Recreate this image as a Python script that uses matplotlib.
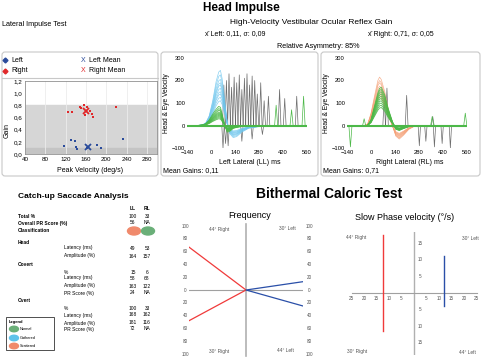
import numpy as np
import matplotlib.pyplot as plt
from matplotlib.patches import FancyBboxPatch, Ellipse, Rectangle

plt.rcParams['font.family'] = ['Liberation Sans', 'DejaVu Sans']

W, H = 482, 359

# ---- gain scatter (peak velocity deg/s, gain)
left_vel = [116, 130, 138, 143, 140, 163, 181, 189, 234]
left_gain = [0.13, 0.23, 0.21, 0.08, 0.12, 0.10, 0.14, 0.10, 0.25]
right_vel = [125, 132, 148, 156, 151, 163, 169, 171, 173, 159, 219]
right_gain = [0.69, 0.69, 0.78, 0.81, 0.75, 0.78, 0.71, 0.65, 0.61, 0.64, 0.78]
left_mean = (165, 0.11)
right_mean = (160, 0.71)

# ---- head impulse traces (ms, deg/s)
ll_t = [-140, -80, -50, -30, -10, 10, 30, 45, 55, 65, 80, 95, 110, 130, 150, 180, 220, 280, 350, 560]
ll_head = [0, 0, 0.01, 0.05, 0.18, 0.45, 0.8, 0.97, 1.0, 0.85, 0.45, 0.05, -0.15, -0.22, -0.2, -0.12, -0.05, -0.02, 0, 0]
ll_eye = [0, 0, 0.02, 0.1, 0.3, 0.6, 0.85, 1.0, 0.95, 0.6, 0.0, -0.35, -0.3, -0.15, -0.1, -0.05, 0, 0, 0, 0]
ll_head_peaks = [245, 225, 205, 190, 180, 165, 150, 140, 125, 110]
ll_eye_peaks = [85, 75, 68, 60, 55, 50, 45, 40, 35, 30]
ll_sacc_t = [75, 90, 105, 120, 135, 150, 165, 180, 195, 210, 225, 240, 255, 270, 290, 310, 335, 400, 430, 500]
ll_sacc_h = [180, 200, 230, 170, 215, 190, 225, 160, 210, 230, 180, 220, 200, 140, 190, 110, 130, 160, 120, 130]
ll_dip_t = [70, 85, 100, 180, 240, 300]
ll_dip_h = [-100, -80, -90, -70, -60, -40]
ll_green_t = [380, 470, 540]
ll_green_h = [90, 70, 130]

rl_t = [-140, -40, -20, 0, 20, 40, 50, 60, 80, 100, 125, 145, 165, 190, 220, 250, 300, 560]
rl_head = [0, 0, 0.02, 0.25, 0.6, 0.93, 1.0, 0.95, 0.7, 0.35, 0, -0.22, -0.28, -0.2, -0.08, -0.02, 0, 0]
rl_eye = [0, 0, 0.0, 0.15, 0.5, 0.85, 0.97, 1.0, 0.8, 0.45, 0.1, -0.1, -0.13, -0.08, -0.03, 0, 0, 0]
rl_head_peaks = [215, 200, 190, 175, 165, 155, 145, 135, 125]
rl_eye_peaks = [170, 160, 150, 140, 130, 120, 110, 100, 90, 80]
rl_sacc_t = [77, 93, 208, 360]
rl_sacc_h = [120, 166, 134, 40]
rl_dip_t = [282, 320, 370, 415, 463]
rl_dip_h = [-90, -70, -95, -80, -100]
rl_green_t = [-120, -40, 357, 550]
rl_green_h = [-95, 30, 40, 55]

# ---- catch-up saccade table
row_labels = ['Total %', 'Overall PR Score (%)', 'Classification', 'Head', 'Latency (ms)', 'Amplitude (%)',
              'Covert', '%', 'Latency (ms)', 'Amplitude (%)', 'PR Score (%)',
              'Overt', '%', 'Latency (ms)', 'Amplitude (%)', 'PR Score (%)']
row_bold = [True, True, True, True, False, False, True, False, False, False, False, True, False, False, False, False]
ll_vals = ['100', '56', '', '', '49', '164', '', '15', '58', '163', '24', '', '100', '168', '181', '72']
rl_vals = ['33', 'NA', '', '', '53', '157', '', '6', '68', '122', 'NA', '', '33', '162', '116', 'NA']
class_colors = ['#f08a6c', '#6aaf78']
legend_names = ['Normal', 'Gathered', 'Scattered']
legend_colors = ['#6aaf78', '#5ec3ea', '#f08a6c']

# ---- caloric
freq_quads = ['44° Right', '30° Left', '30° Right', '44° Left']
freq_red = [67, -48]
freq_blue = [13, -25]
spv_x = [-12.4, 12.0]
spv_top = [17.4, 11.1]
spv_bot = [-11.4, -3.9]


def px_axes(fig, x0, y0, x1, y1):
    ax = fig.add_axes([x0 / W, 1 - y1 / H, (x1 - x0) / W, (y1 - y0) / H])
    ax.patch.set_alpha(0)
    return ax


fig = plt.figure(figsize=(W / 100, H / 100), dpi=100)
ov = fig.add_axes([0, 0, 1, 1])
ov.set_xlim(0, W)
ov.set_ylim(H, 0)
ov.axis('off')

# titles
ov.text(241, 8, 'Head Impulse', ha='center', va='center', fontsize=8.5, fontweight='bold')
ov.text(2, 24, 'Lateral Impulse Test', va='center', fontsize=5.2)
ov.text(311, 23, 'High-Velocity Vestibular Ocular Reflex Gain', ha='center', va='center', fontsize=6)
ov.text(205, 34, 'x\u0304 Left: 0,11, \u03c3: 0,09', va='center', fontsize=5)
ov.text(368, 34, 'x\u0304 Right: 0,71, \u03c3: 0,05', va='center', fontsize=5)
ov.text(318, 46, 'Relative Asymmetry: 85%', ha='center', va='center', fontsize=5.2)

# panel boxes
for x0, x1 in [(2, 158), (161, 318), (321, 480)]:
    ov.add_patch(FancyBboxPatch((x0, 52), x1 - x0, 124, boxstyle='round,pad=0,rounding_size=3',
                                fc='none', ec='#c8c8c8', lw=0.8))
ov.plot([2, 158], [78, 78], color='#c8c8c8', lw=0.8)

# gain legend
ov.plot(5, 60, 'D', color='#2a4b9b', ms=2.5)
ov.text(11, 60, 'Left', va='center', fontsize=5)
ov.plot(5, 71, 'D', color='#e0282a', ms=2.5)
ov.text(11, 71, 'Right', va='center', fontsize=5)
ov.text(83, 60, 'X', color='#2a4b9b', ha='center', va='center', fontsize=5)
ov.text(89, 60, 'Left Mean', va='center', fontsize=5)
ov.text(83, 71, 'X', color='#e0282a', ha='center', va='center', fontsize=5)
ov.text(89, 71, 'Right Mean', va='center', fontsize=5)

# gain scatter
ga = px_axes(fig, 25, 81, 157, 154)
ga.set_xlim(40, 300)
ga.set_ylim(0, 1.2)
ga.axhspan(0, 0.8, color='#d6d6d6', zorder=0)
ga.axhspan(0, 0.1, color='#c4c4c4', zorder=0)
ga.set_xticks(np.arange(40, 281, 40))
ga.set_yticks(np.arange(0, 1.21, 0.2))
ga.set_yticklabels([f'{v:.1f}'.replace('.', ',') for v in np.arange(0, 1.21, 0.2)])
ga.grid(axis='x', color='#ececec', lw=0.6, zorder=1)
ga.set_axisbelow(True)
ga.tick_params(length=0, labelsize=4.5, pad=2)
for s in ga.spines.values():
    s.set_color('#909090')
    s.set_linewidth(0.6)
ga.scatter(left_vel, left_gain, s=0.8, marker='s', color='#2a4b9b', zorder=3, linewidths=0)
ga.scatter(right_vel, right_gain, s=0.8, marker='s', color='#e0282a', zorder=3, linewidths=0)
ga.plot(*left_mean, 'x', color='#2a4b9b', ms=4, mew=1.3, zorder=4)
ga.plot(*right_mean, 'x', color='#e0282a', ms=4, mew=1.3, zorder=4)
ov.text(7, 130, 'Gain', rotation=90, ha='center', va='center', fontsize=5)
ov.text(90, 171, 'Peak Velocity (deg/s)', ha='center', va='center', fontsize=5)


def impulse(x0, x1, t, head, eye, hp, ep, st, sh, dt, dh, gt, gh, hcol, xlabel, gain_txt, bx):
    ax = px_axes(fig, x0, 58, x1, 148)
    ax.set_xlim(-140, 560)
    ax.set_ylim(-100, 300)
    for s in ax.spines.values():
        s.set_visible(False)
    ax.set_xticks([-140, 0, 140, 280, 420, 560])
    ax.set_yticks([-100, 0, 100, 200, 300])
    ax.tick_params(length=0, labelsize=4.2, pad=1.5)
    for c, h in zip(st, sh):
        ax.plot([c - 8, c, c + 8], [0, h, 0], color='#303030', lw=0.5, alpha=0.7, zorder=1)
    for c, h in zip(dt, dh):
        ax.plot([c - 7, c, c + 7], [0, h, 0], color='#303030', lw=0.5, alpha=0.7, zorder=1)
    for p in hp:
        ax.plot(t, np.array(head) * p, color=hcol, lw=0.5, alpha=0.8, zorder=2)
    for p in ep:
        ax.plot(t, np.array(eye) * p, color='#4cb848', lw=0.6, alpha=0.9, zorder=3)
    for c, h in zip(gt, gh):
        ax.plot([c - 9, c, c + 9], [0, h, 0], color='#4cb848', lw=0.5, zorder=3)
    ax.plot([-140, 560], [0, 0], color='#4cb848', lw=1.5, zorder=3)
    ov.text(bx + 5, 103, 'Head & Eye Velocity', rotation=90, ha='center', va='center', fontsize=4.8)
    ov.text((x0 + x1) / 2 + 3, 162, xlabel, ha='center', va='center', fontsize=5)
    ov.text(bx + 2, 171, gain_txt, va='center', fontsize=5)


impulse(187, 307, ll_t, ll_head, ll_eye, ll_head_peaks, ll_eye_peaks, ll_sacc_t, ll_sacc_h,
        ll_dip_t, ll_dip_h, ll_green_t, ll_green_h, '#6ec6ee', 'Left Lateral (LL) ms', 'Mean Gains: 0,11', 161)
impulse(347, 467, rl_t, rl_head, rl_eye, rl_head_peaks, rl_eye_peaks, rl_sacc_t, rl_sacc_h,
        rl_dip_t, rl_dip_h, rl_green_t, rl_green_h, '#f5a279', 'Right Lateral (RL) ms', 'Mean Gains: 0,71', 321)

# catch-up saccade table
ov.text(18, 196, 'Catch-up Saccade Analysis', va='center', fontsize=6, fontweight='bold')
ov.text(133, 208, 'LL', ha='center', va='center', fontsize=3.5, fontweight='bold')
ov.text(147, 208, 'RL', ha='center', va='center', fontsize=3.5, fontweight='bold')
row_y = [216, 223, 231, 242, 248, 256, 264, 272, 278, 286, 293, 301, 308, 315, 323, 329]
for y, lab, b, lv, rv in zip(row_y, row_labels, row_bold, ll_vals, rl_vals):
    ov.text(18 if b else 64, y, lab, va='center', fontsize=3.5, fontweight='bold' if b else 'normal')
    ov.text(133, y, lv, ha='center', va='center', fontsize=3.5)
    ov.text(147, y, rv, ha='center', va='center', fontsize=3.5)
for x, c in zip([134, 148], class_colors):
    ov.add_patch(Ellipse((x, 231), 13, 8, color=c))
ov.add_patch(Rectangle((6, 317), 48, 33, fc='white', ec='#333333', lw=0.6))
ov.text(9, 322, 'Legend', va='center', fontsize=3, fontweight='bold')
for y, n, c in zip([329, 338, 346], legend_names, legend_colors):
    ov.add_patch(Ellipse((14, y), 9, 5.5, color=c))
    ov.text(20, y, n, va='center', fontsize=2.8)

# caloric
ov.text(329, 194, 'Bithermal Caloric Test', ha='center', va='center', fontsize=10, fontweight='bold')

fa = px_axes(fig, 189, 226, 303, 354)
fa.set_xlim(-1, 1)
fa.set_ylim(-100, 100)
fa.axis('off')
fa.plot([0, 0], [-103, 103], color='#b0b0b0', lw=1.2, clip_on=False)
fa.plot([-1, 1], [0, 0], color='#a0a0a0', lw=0.8)
fa.plot([-1, 0, -1], [freq_red[0], 0, freq_red[1]], color='#f03a3a', lw=0.9)
fa.plot([1, 0, 1], [freq_blue[0], 0, freq_blue[1]], color='#2a4fa8', lw=0.9)
ov.text(250, 216, 'Frequency', ha='center', va='center', fontsize=6.5)
for v in range(-100, 101, 20):
    y = 290 - v * 0.64
    ov.text(185, y, str(abs(v)), ha='center', va='center', fontsize=3.3, color='#555555')
    ov.text(309, y, str(abs(v)), ha='center', va='center', fontsize=3.3, color='#555555')
for (x, y), q in zip([(219, 229), (287, 229), (219, 351), (285, 351)], freq_quads):
    ov.text(x, y, q, ha='center', va='center', fontsize=3.5, color='#555555')

sa = px_axes(fig, 349, 231.5, 479, 354.5)
sa.set_xlim(-26, 26)
sa.set_ylim(-18.5, 18.5)
sa.axis('off')
sa.plot([0, 0], [-18.5, 18.5], color='#b0b0b0', lw=1.0)
sa.plot([-25, 25], [0, 0], color='#a0a0a0', lw=0.8)
sa.plot([spv_x[0]] * 2, [spv_bot[0], spv_top[0]], color='#f03a3a', lw=1.0)
sa.plot([spv_x[1]] * 2, [spv_bot[1], spv_top[1]], color='#2a4fa8', lw=1.0)
for v in [5, 10, 15, 20, 25]:
    for sgn in (-1, 1):
        ov.text(414 + sgn * v * 2.5, 299, str(v), ha='center', va='center', fontsize=3.3, color='#555555')
for v in [5, 10, 15]:
    for sgn in (-1, 1):
        ov.text(420, 293 - sgn * v * 3.33, str(v), ha='center', va='center', fontsize=3.3, color='#555555')
ov.text(405, 217, 'Slow Phase velocity (°/s)', ha='center', va='center', fontsize=6.5)
for (x, y), q in zip([(356, 238), (470, 238), (357, 352), (467, 352)], freq_quads):
    ov.text(x, y, q, ha='center', va='center', fontsize=3.5, color='#555555')

fig.savefig('out.png', dpi=100)
